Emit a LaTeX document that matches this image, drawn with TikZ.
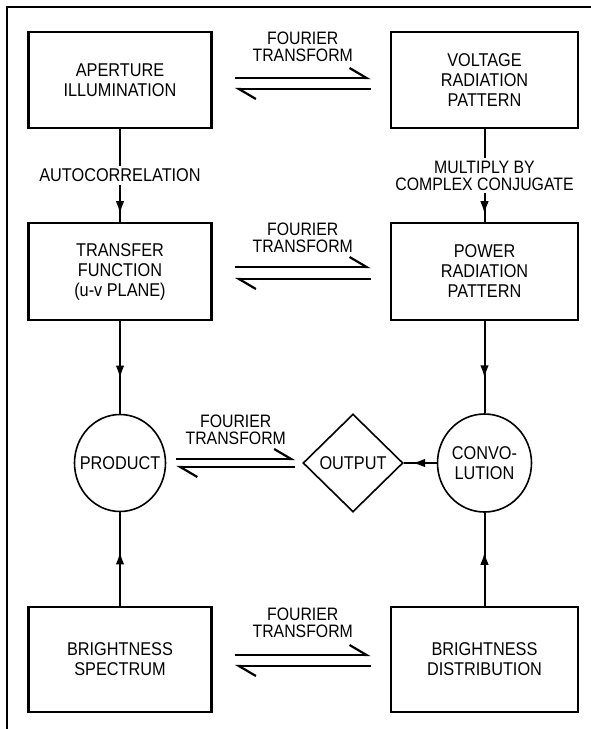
\documentclass[tikz,border=0pt]{standalone}
\usepackage{fontspec}
\setmainfont{Liberation Sans}[FakeStretch=0.88]
\usetikzlibrary{shapes.geometric,arrows.meta,decorations.markings,positioning}

\begin{document}
\begin{tikzpicture}[x=1pt,y=-1pt,font=\fontsize{18.5}{20}\selectfont]
	\tikzstyle{box} = [draw,rectangle,line width=2.8pt,text centered,align=center,inner sep=0pt]
	\tikzstyle{oval} = [draw,ellipse,line width=1.6pt,inner sep=0pt]
	\tikzstyle{lbl} = [align=center,inner sep=0pt,font=\fontsize{18}{17}\selectfont]
	\tikzstyle{harp} = [line width=2.2pt,-{Straight Barb[harpoon,length=17pt,width=20pt]}]
	\tikzstyle{link} = [line width=2pt]
	\tikzset{midarrow/.style={postaction={decorate},decoration={markings,mark=at position #1 with {\arrow{Latex[length=13pt,width=8.5pt]}}}}}

	\useasboundingbox (0,0) rectangle (591,729);
	\draw[line width=2.4pt] (591,7) -- (7,7) -- (7,729);

	\node[box,minimum width=183pt,minimum height=96pt] (AI) at (120,80) {APERTURE\\ILLUMINATION};
	\node[box,minimum width=187pt,minimum height=96pt] (VR) at (484.5,80) {VOLTAGE\\RADIATION\\PATTERN};
	\node[box,minimum width=183pt,minimum height=97pt] (TF) at (120,271.5) {TRANSFER\\FUNCTION\\(u-v PLANE)};
	\node[box,minimum width=187pt,minimum height=97pt] (PR) at (484.5,271.5) {POWER\\RADIATION\\PATTERN};
	\node[oval,minimum width=91pt,minimum height=97pt,label=center:PRODUCT] (PD) at (120,463) {};
	\node[draw,diamond,line width=1.6pt,inner sep=0pt,minimum width=100pt,minimum height=98pt,label=center:OUTPUT] (OUT) at (353,463) {};
	\node[oval,minimum width=94pt,minimum height=98pt,label={[align=center]center:{CONVO-\\LUTION}}] (CV) at (484.5,463) {};
	\node[box,minimum width=183pt,minimum height=105pt] (BS) at (120,659.5) {BRIGHTNESS\\SPECTRUM};
	\node[box,minimum width=187pt,minimum height=105pt] (BD) at (484.5,659.5) {BRIGHTNESS\\DISTRIBUTION};

	% fourier pairs
	\draw[harp] ([xshift=22pt,yshift=2pt]AI.east) -- node[lbl,above=15pt] (FT1) {FOURIER\\TRANSFORM} ([xshift=-19pt,yshift=2pt]VR.west);
	\draw[harp] ([xshift=-19pt,yshift=-9pt]VR.west) -- ([xshift=22pt,yshift=-9pt]AI.east);
	\draw[harp] ([xshift=22pt,yshift=4.5pt]TF.east) -- node[lbl,above=13pt] (FT2) {FOURIER\\TRANSFORM} ([xshift=-19pt,yshift=4.5pt]PR.west);
	\draw[harp] ([xshift=-19pt,yshift=-7.5pt]PR.west) -- ([xshift=22pt,yshift=-7.5pt]TF.east);
	\draw[harp] ([xshift=10pt,yshift=4pt]PD.east) -- node[lbl,above=13pt] (FT3) {FOURIER\\TRANSFORM} ([xshift=-7pt,yshift=4pt]OUT.west);
	\draw[harp] ([xshift=-7pt,yshift=-4pt]OUT.west) -- ([xshift=10pt,yshift=-4pt]PD.east);
	\draw[harp] ([xshift=22pt,yshift=4.5pt]BS.east) -- node[lbl,above=16pt] (FT4) {FOURIER\\TRANSFORM} ([xshift=-19pt,yshift=4.5pt]BD.west);
	\draw[harp] ([xshift=-19pt,yshift=-6.5pt]BD.west) -- ([xshift=22pt,yshift=-6.5pt]BS.east);

	\draw[link,midarrow=0.92] (AI) -- node[fill=white,inner sep=3pt] (AC) {AUTOCORRELATION} (TF);
	\draw[link,midarrow=0.92] (VR) -- node[lbl,fill=white,inner sep=3pt] (MC) {MULTIPLY BY\\COMPLEX CONJUGATE} (PR);
	\draw[link,midarrow=0.62] (TF) -- (PD);
	\draw[link,midarrow=0.62] (PR) -- (CV);
	\draw[link,midarrow=0.58] (BS) -- (PD);
	\draw[link,midarrow=0.58] (BD) -- (CV);
	\draw[link,midarrow=0.75] (CV) -- (OUT);
\end{tikzpicture}
\end{document}
